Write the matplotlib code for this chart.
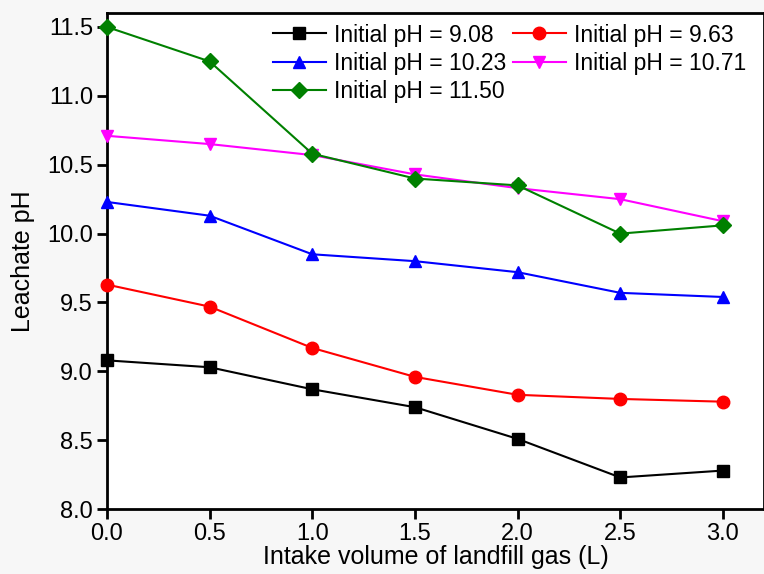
import matplotlib.pyplot as plt

plt.rcParams['font.family'] = ['Liberation Sans', 'DejaVu Sans']

# intake volume (L)
volume = [0.0, 0.5, 1.0, 1.5, 2.0, 2.5, 3.0]

ph_908 = [9.08, 9.03, 8.87, 8.74, 8.51, 8.23, 8.28]
ph_963 = [9.63, 9.47, 9.17, 8.96, 8.83, 8.80, 8.78]
ph_1023 = [10.23, 10.13, 9.85, 9.80, 9.72, 9.57, 9.54]
ph_1071 = [10.71, 10.65, 10.57, 10.43, 10.33, 10.25, 10.09]
ph_1150 = [11.50, 11.25, 10.58, 10.40, 10.35, 10.00, 10.06]

labels = ["Initial pH = 9.08", "Initial pH = 9.63", "Initial pH = 10.23",
          "Initial pH = 10.71", "Initial pH = 11.50"]
series = [ph_908, ph_963, ph_1023, ph_1071, ph_1150]
colors = ["black", "red", "blue", "magenta", "green"]
markers = ["s", "o", "^", "v", "D"]
msizes = [8, 9, 9, 9, 8]

fig = plt.figure(figsize=(7.64, 5.74), dpi=100, facecolor='#f7f7f7')
ax = fig.add_axes([0.140, 0.113, 0.86, 0.864])
ax.set_facecolor('white')

handles = []
for y, lab, c, m, ms in zip(series, labels, colors, markers, msizes):
    h, = ax.plot(volume, y, color=c, marker=m, markersize=ms, linewidth=1.5,
                 label=lab, clip_on=False, zorder=3)
    handles.append(h)

ax.set_xlim(0, 3.2)
ax.set_ylim(8.0, 11.6)
ax.set_xticks([0.0, 0.5, 1.0, 1.5, 2.0, 2.5, 3.0])
ax.set_yticks([8.0, 8.5, 9.0, 9.5, 10.0, 10.5, 11.0, 11.5])
ax.set_xticklabels([f"{v:.1f}" for v in ax.get_xticks()])
ax.set_yticklabels([f"{v:.1f}" for v in ax.get_yticks()])

for s in ax.spines.values():
    s.set_linewidth(2)
ax.tick_params(direction='out', length=7, width=2, labelsize=17, pad=3)

ax.set_xlabel("Intake volume of landfill gas (L)", fontsize=18, labelpad=0)
ax.set_ylabel("Leachate pH", fontsize=18, labelpad=9)

# legend fills row by row in the original
order = [0, 2, 4, 1, 3]
ax.legend([handles[i] for i in order], [labels[i] for i in order],
          loc='upper right', bbox_to_anchor=(0.988, 1.0), ncol=2,
          frameon=False, fontsize=16.5,
          handlelength=2.3, columnspacing=0.3, handletextpad=0.35,
          labelspacing=0.22, borderpad=0.1, borderaxespad=0.35)

fig.savefig("out.png", dpi=100, facecolor=fig.get_facecolor())
